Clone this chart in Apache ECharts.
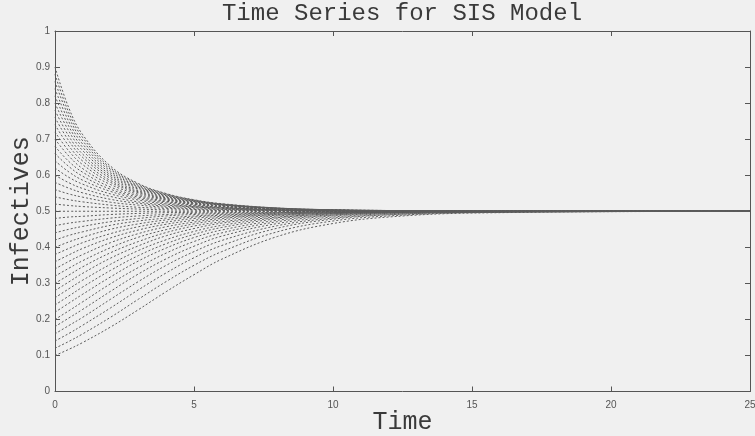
<!DOCTYPE html>
<html>
<head>
<meta charset="utf-8">
<title>Time Series for SIS Model</title>
<script src="https://cdn.jsdelivr.net/npm/echarts@6/dist/echarts.min.js"></script>
<style>
  html, body { margin: 0; padding: 0; background: #f0f0f0; }
  #chart { width: 755px; height: 436px; }
</style>
</head>
<body>
<div id="chart"></div>
<script>
// Sample times shared by every trajectory
const times = [0, 0.5, 1, 2, 3, 4, 5, 6, 8, 10, 12, 15, 25];

// Trajectories starting above the endemic level (I0 = 0.52 ... 0.90)
const upperCurves = [
  [0.52, 0.516, 0.513, 0.509, 0.506, 0.504, 0.503, 0.502, 0.501, 0.500, 0.500, 0.500, 0.5],
  [0.54, 0.532, 0.526, 0.517, 0.511, 0.508, 0.505, 0.503, 0.502, 0.501, 0.500, 0.500, 0.5],
  [0.56, 0.548, 0.539, 0.525, 0.517, 0.511, 0.507, 0.505, 0.502, 0.501, 0.500, 0.500, 0.5],
  [0.58, 0.564, 0.551, 0.533, 0.522, 0.514, 0.510, 0.506, 0.503, 0.501, 0.501, 0.500, 0.5],
  [0.60, 0.579, 0.563, 0.541, 0.526, 0.517, 0.512, 0.508, 0.503, 0.502, 0.501, 0.500, 0.5],
  [0.62, 0.594, 0.575, 0.548, 0.531, 0.520, 0.513, 0.509, 0.504, 0.502, 0.501, 0.500, 0.5],
  [0.64, 0.609, 0.586, 0.555, 0.535, 0.523, 0.515, 0.510, 0.504, 0.502, 0.501, 0.500, 0.5],
  [0.66, 0.624, 0.597, 0.561, 0.539, 0.526, 0.517, 0.511, 0.505, 0.502, 0.501, 0.500, 0.5],
  [0.68, 0.638, 0.608, 0.567, 0.543, 0.528, 0.519, 0.512, 0.505, 0.502, 0.501, 0.500, 0.5],
  [0.70, 0.653, 0.618, 0.574, 0.547, 0.531, 0.520, 0.513, 0.506, 0.503, 0.501, 0.500, 0.5],
  [0.72, 0.667, 0.629, 0.580, 0.551, 0.533, 0.522, 0.514, 0.506, 0.503, 0.501, 0.500, 0.5],
  [0.74, 0.681, 0.639, 0.585, 0.554, 0.535, 0.523, 0.515, 0.507, 0.503, 0.501, 0.500, 0.5],
  [0.76, 0.695, 0.649, 0.591, 0.557, 0.537, 0.524, 0.516, 0.507, 0.503, 0.501, 0.500, 0.5],
  [0.78, 0.708, 0.658, 0.596, 0.561, 0.539, 0.526, 0.517, 0.507, 0.503, 0.501, 0.500, 0.5],
  [0.80, 0.722, 0.668, 0.601, 0.564, 0.541, 0.527, 0.518, 0.508, 0.503, 0.502, 0.500, 0.5],
  [0.82, 0.735, 0.677, 0.606, 0.567, 0.543, 0.528, 0.518, 0.508, 0.504, 0.502, 0.500, 0.5],
  [0.84, 0.748, 0.686, 0.611, 0.569, 0.545, 0.529, 0.519, 0.508, 0.504, 0.502, 0.500, 0.5],
  [0.86, 0.761, 0.695, 0.616, 0.572, 0.546, 0.530, 0.520, 0.509, 0.504, 0.502, 0.501, 0.5],
  [0.88, 0.773, 0.704, 0.620, 0.575, 0.548, 0.531, 0.520, 0.509, 0.504, 0.502, 0.501, 0.5],
  [0.90, 0.786, 0.712, 0.625, 0.577, 0.549, 0.532, 0.521, 0.509, 0.504, 0.502, 0.501, 0.5]
];

// Trajectory starting exactly at the endemic level
const equilibrium = [0.5, 0.5, 0.5, 0.5, 0.5, 0.5, 0.5, 0.5, 0.5, 0.5, 0.5, 0.5, 0.5];

// Trajectories starting below the endemic level (I0 = 0.10 ... 0.48)
const lowerCurves = [
  [0.10, 0.117, 0.136, 0.179, 0.227, 0.277, 0.324, 0.367, 0.430, 0.466, 0.484, 0.495, 0.5],
  [0.12, 0.139, 0.160, 0.206, 0.256, 0.305, 0.350, 0.388, 0.443, 0.473, 0.487, 0.496, 0.5],
  [0.14, 0.161, 0.184, 0.232, 0.282, 0.329, 0.371, 0.405, 0.453, 0.478, 0.490, 0.497, 0.5],
  [0.16, 0.183, 0.206, 0.256, 0.305, 0.350, 0.388, 0.419, 0.460, 0.481, 0.491, 0.497, 0.5],
  [0.18, 0.204, 0.228, 0.278, 0.326, 0.368, 0.403, 0.431, 0.466, 0.484, 0.493, 0.498, 0.5],
  [0.20, 0.224, 0.249, 0.299, 0.344, 0.384, 0.416, 0.440, 0.471, 0.487, 0.494, 0.498, 0.5],
  [0.22, 0.245, 0.270, 0.318, 0.362, 0.398, 0.427, 0.448, 0.475, 0.489, 0.495, 0.498, 0.5],
  [0.24, 0.265, 0.290, 0.336, 0.377, 0.410, 0.436, 0.455, 0.479, 0.490, 0.496, 0.499, 0.5],
  [0.26, 0.285, 0.309, 0.353, 0.391, 0.421, 0.444, 0.461, 0.482, 0.492, 0.496, 0.499, 0.5],
  [0.28, 0.304, 0.328, 0.370, 0.404, 0.432, 0.452, 0.467, 0.484, 0.493, 0.497, 0.499, 0.5],
  [0.30, 0.323, 0.346, 0.385, 0.416, 0.441, 0.459, 0.471, 0.487, 0.494, 0.497, 0.499, 0.5],
  [0.32, 0.342, 0.363, 0.399, 0.428, 0.449, 0.465, 0.476, 0.489, 0.495, 0.498, 0.499, 0.5],
  [0.34, 0.361, 0.380, 0.413, 0.438, 0.457, 0.470, 0.480, 0.491, 0.496, 0.498, 0.499, 0.5],
  [0.36, 0.379, 0.397, 0.426, 0.448, 0.464, 0.475, 0.483, 0.492, 0.496, 0.498, 0.500, 0.5],
  [0.38, 0.397, 0.413, 0.438, 0.457, 0.470, 0.480, 0.486, 0.494, 0.497, 0.499, 0.500, 0.5],
  [0.40, 0.415, 0.428, 0.450, 0.465, 0.476, 0.484, 0.489, 0.495, 0.498, 0.499, 0.500, 0.5],
  [0.42, 0.433, 0.443, 0.461, 0.473, 0.481, 0.487, 0.491, 0.496, 0.498, 0.499, 0.500, 0.5],
  [0.44, 0.450, 0.458, 0.471, 0.480, 0.487, 0.491, 0.494, 0.497, 0.499, 0.499, 0.500, 0.5],
  [0.46, 0.467, 0.472, 0.481, 0.487, 0.491, 0.494, 0.496, 0.498, 0.499, 0.500, 0.500, 0.5],
  [0.48, 0.484, 0.486, 0.491, 0.494, 0.496, 0.497, 0.498, 0.499, 0.500, 0.500, 0.500, 0.5]
];

// Axis ticks
const timeTicks = { min: 0, max: 25, step: 5 };
const infTicks = { min: 0, max: 1, step: 0.1 };

const axisColor = '#555';
const textColor = '#3a3a3a';
const monoFont = '"Liberation Mono", "Courier New", monospace';
const sansFont = '"Liberation Sans", Arial, Helvetica, sans-serif';

function trajectory(row, idx) {
  return {
    type: 'line',
    xAxisIndex: 0,
    yAxisIndex: 0,
    name: 'I0 ' + row[0],
    data: times.map((t, i) => [t, row[i]]),
    showSymbol: false,
    symbol: 'none',
    smooth: 0.4,
    silent: true,
    z: 2 + idx,
    lineStyle: { color: '#5c5c5c', width: 1, type: [2, 2] }
  };
}

const allRows = lowerCurves.concat([equilibrium], upperCurves);

const chart = echarts.init(document.getElementById('chart'), null, { renderer: 'canvas' });

const frameAxis = (extra) => Object.assign({
  type: 'value',
  axisLine: { show: true, onZero: false, lineStyle: { color: axisColor, width: 1 } },
  axisTick: { show: true, inside: true, length: 5, lineStyle: { color: axisColor, width: 1 } },
  splitLine: { show: false }
}, extra);

chart.setOption({
  backgroundColor: '#f0f0f0',
  animation: false,
  title: {
    text: 'Time Series for SIS Model',
    left: 402,
    top: 2,
    padding: 0,
    textAlign: 'center',
    textStyle: { fontFamily: monoFont, fontSize: 24, fontWeight: 'normal', color: textColor }
  },
  grid: {
    left: 55,
    right: 5,
    top: 31,
    bottom: 44.5,
    containLabel: false,
    outerBoundsMode: 'none'
  },
  xAxis: [
    frameAxis({
      position: 'bottom',
      min: timeTicks.min, max: timeTicks.max, interval: timeTicks.step,
      axisLabel: { color: axisColor, fontSize: 10, fontFamily: sansFont, margin: 9 },
      name: 'Time',
      nameLocation: 'middle',
      nameGap: 18,
      nameMoveOverlap: false,
      nameTextStyle: { fontFamily: monoFont, fontSize: 25, color: textColor }
    }),
    frameAxis({
      position: 'top',
      min: timeTicks.min, max: timeTicks.max, interval: timeTicks.step,
      axisLabel: { show: false }
    })
  ],
  yAxis: [
    frameAxis({
      position: 'left',
      min: infTicks.min, max: infTicks.max, interval: infTicks.step,
      axisLabel: { color: axisColor, fontSize: 10, fontFamily: sansFont, margin: 5 },
      name: 'Infectives',
      nameLocation: 'middle',
      nameGap: 21,
      nameMoveOverlap: false,
      nameTextStyle: { fontFamily: monoFont, fontSize: 25, color: textColor }
    }),
    frameAxis({
      position: 'right',
      min: infTicks.min, max: infTicks.max, interval: infTicks.step,
      axisLabel: { show: false }
    })
  ],
  series: allRows.map(trajectory)
});
</script>
</body>
</html>
